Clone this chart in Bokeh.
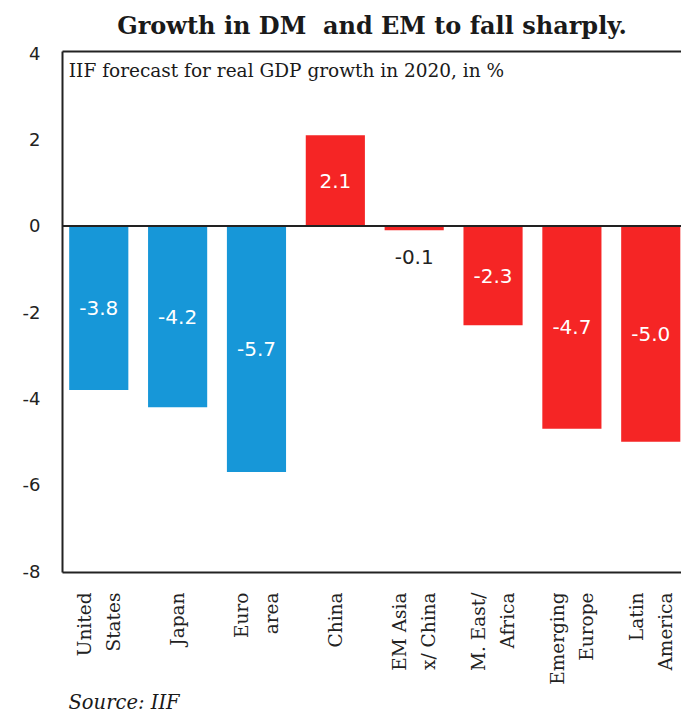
from math import pi

from bokeh.plotting import figure
from bokeh.models import (ColumnDataSource, Range1d, FixedTicker, LinearAxis,
                          Span, Label, Title)
from bokeh.core.properties import value
from bokeh.embed import file_html
from bokeh.resources import INLINE

# IIF forecast for real GDP growth in 2020, %
regions = ["United\nStates", "Japan", "Euro\narea", "China", "EM Asia\nx/ China",
           "M. East/\nAfrica", "Emerging\nEurope", "Latin\nAmerica"]
growth = [-3.8, -4.2, -5.7, 2.1, -0.1, -2.3, -4.7, -5.0]
group = ["DM", "DM", "DM", "EM", "EM", "EM", "EM", "EM"]
y_ticks = [4, 2, 0, -2, -4, -6, -8]

GROUP_COLOR = {"DM": "#1797d8", "EM": "#f52525"}
SERIF = "DejaVu Serif"
NUM_FONT = "DejaVu Sans"

xs = [i + 0.5 for i in range(len(regions))]
colors = [GROUP_COLOR[g] for g in group]
# value labels sit mid-bar; a bar too thin to hold text gets its label just below
label_y = [v / 2 if abs(v) >= 0.5 else v - 0.62 for v in growth]
label_color = ["white" if abs(v) >= 0.5 else "#222222" for v in growth]
label_text = [f"{v:.1f}" for v in growth]

src = ColumnDataSource(dict(x=xs, top=growth, color=colors, ly=label_y,
                            lc=label_color, lt=label_text))

p = figure(width=681, height=714, output_backend="svg", toolbar_location=None,
           x_range=Range1d(0.04, 7.89), y_range=Range1d(-8.03, 4.04),
           min_border_left=62, min_border_right=0, min_border_top=0,
           min_border_bottom=0, x_axis_location="below")
p.title.text = "Growth in DM\u00a0 and EM to fall sharply."
p.title.align = "center"
p.title.vertical_align = "top"
p.title.text_font = SERIF
p.title.text_font_style = "bold"
p.title.text_font_size = "24px"
p.title.text_color = "#1a1a1a"
p.title.offset = 20
p.title.standoff = 20

p.outline_line_color = None
p.grid.visible = False
p.background_fill_color = "white"
p.border_fill_color = "white"

p.vbar(x="x", top="top", bottom=0, width=0.75, fill_color="color",
       line_color=None, source=src)
p.add_layout(Span(location=0, dimension="width", line_color="#222222",
                  line_width=2))

p.text(x="x", y="ly", text="lt", text_color="lc", source=src,
       text_align="center", text_baseline="middle",
       text_font=value(NUM_FONT), text_font_size="20px")

p.add_layout(Label(x=0.12, y=3.85, text="IIF forecast for real GDP growth in 2020, in %",
                   text_font=SERIF, text_font_size="18.5px", text_color="#1a1a1a",
                   text_baseline="top"))

# y axis, plain hyphen for negatives
ya = p.yaxis[0]
ya.ticker = FixedTicker(ticks=y_ticks)
ya.major_label_overrides = {t: str(t) for t in y_ticks}
ya.major_tick_line_color = None
ya.minor_tick_line_color = None
ya.axis_line_width = 2
ya.axis_line_color = "#222222"
ya.major_label_standoff = 16
ya.major_label_text_font = NUM_FONT
ya.major_label_text_font_size = "18px"
ya.major_label_text_color = "#222222"

# x axis with the region names
xa = p.xaxis[0]
xa.ticker = FixedTicker(ticks=xs)
xa.major_label_overrides = {x: r for x, r in zip(xs, regions)}
xa.major_label_orientation = pi / 2
xa.major_tick_line_color = None
xa.minor_tick_line_color = None
xa.axis_line_width = 2
xa.axis_line_color = "#222222"
xa.major_label_standoff = 14
xa.major_label_text_font = SERIF
xa.major_label_text_font_size = "18.5px"
xa.major_label_text_color = "#222222"
xa.major_label_text_line_height = 1.4

# top border of the plot box
top = LinearAxis(ticker=FixedTicker(ticks=[]), major_label_text_font_size="0px",
                 major_tick_line_color=None, minor_tick_line_color=None,
                 axis_line_width=2, axis_line_color="#222222",
                 major_label_standoff=0)
p.add_layout(top, "above")

p.add_layout(Title(text="Source: IIF", align="left", text_font=SERIF,
                   text_font_style="italic", text_font_size="19.5px",
                   text_color="#1a1a1a", offset=6, standoff=2), "below")

open("out.html", "w").write(file_html(p, INLINE))
